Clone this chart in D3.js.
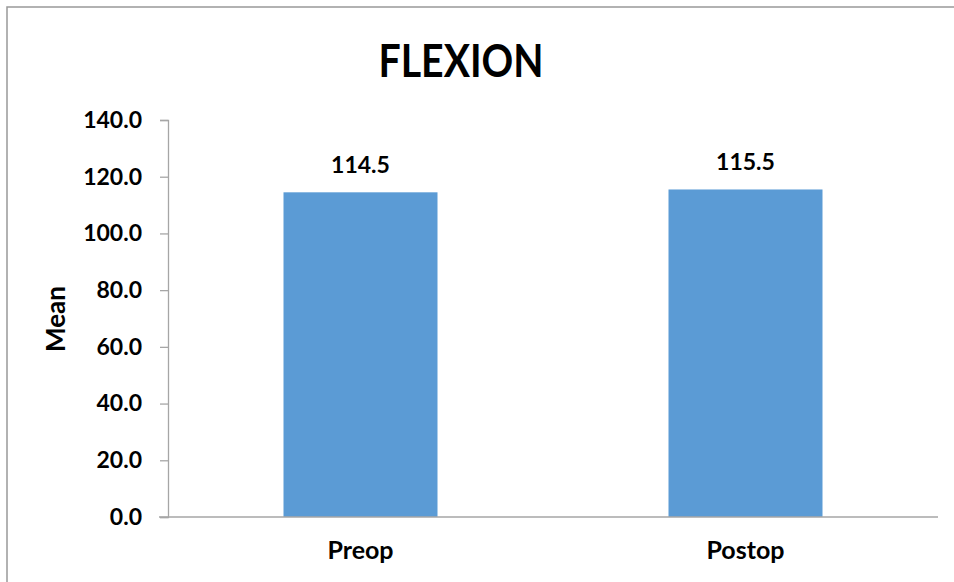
<!DOCTYPE html>
<html>
<head>
<meta charset="utf-8">
<script src="https://cdn.jsdelivr.net/npm/d3@7/dist/d3.min.js"></script>
<style>
  html, body { margin: 0; padding: 0; background: #fff; }
  svg { display: block; }
  text { font-family: Lato, "Open Sans", sans-serif; font-weight: bold; fill: #000; }
</style>
</head>
<body>
<svg id="chart" width="954" height="582"></svg>
<script>
// Mean flexion before and after surgery
const categories = ["Preop", "Postop"];
const meanValues = [114.5, 115.5];
const yTicks = [0, 20, 40, 60, 80, 100, 120, 140];
const chartTitle = "FLEXION";
const yAxisTitle = "Mean";

const W = 954, H = 582;
const plot = { left: 168, right: 938, top: 120, bottom: 517 };

const svg = d3.select("#chart");

// Frame around the chart area (top and left edges visible)
svg.append("path")
  .attr("d", `M7,${H} L7,7 L${W},7`)
  .attr("fill", "none")
  .attr("stroke", "#999")
  .attr("stroke-width", 1.5);

const x = d3.scaleBand()
  .domain(categories)
  .range([plot.left, plot.right])
  .paddingInner(0.6)
  .paddingOuter(0.3);

const y = d3.scaleLinear()
  .domain([0, 140])
  .range([plot.bottom, plot.top]);

// Y axis
const yAxis = d3.axisLeft(y)
  .tickValues(yTicks)
  .tickFormat(d3.format(".1f"))
  .tickSize(8)
  .tickPadding(18);

const gy = svg.append("g")
  .attr("transform", `translate(${plot.left},0)`)
  .call(yAxis);
gy.select(".domain").attr("stroke", "#a6a6a6").attr("stroke-width", 1.3);
gy.selectAll(".tick line").attr("stroke", "#a6a6a6").attr("stroke-width", 1.3);
gy.selectAll(".tick text")
  .style("font-size", "23px")
  .style("font-family", "Lato, sans-serif")
  .style("font-weight", "bold")
  .attr("fill", "#000");

// Bars
svg.append("g")
  .selectAll("rect")
  .data(meanValues)
  .join("rect")
  .attr("x", (d, i) => x(categories[i]))
  .attr("y", d => y(d))
  .attr("width", x.bandwidth())
  .attr("height", d => y(0) - y(d))
  .attr("fill", "#5b9bd5");

// X axis baseline (extends left to the tick length)
svg.append("line")
  .attr("x1", plot.left - 9)
  .attr("x2", plot.right)
  .attr("y1", y(0))
  .attr("y2", y(0))
  .attr("stroke", "#a6a6a6")
  .attr("stroke-width", 1.3);

// Category labels
svg.append("g")
  .selectAll("text")
  .data(categories)
  .join("text")
  .attr("x", d => x(d) + x.bandwidth() / 2)
  .attr("y", 559)
  .attr("text-anchor", "middle")
  .style("font-size", "25px")
  .text(d => d);

// Value labels above bars
svg.append("g")
  .selectAll("text")
  .data(meanValues)
  .join("text")
  .attr("x", (d, i) => x(categories[i]) + x.bandwidth() / 2)
  .attr("y", d => y(d) - 19)
  .attr("text-anchor", "middle")
  .style("font-size", "23px")
  .text(d => d3.format(".1f")(d));

// Y axis title
svg.append("text")
  .attr("transform", `translate(65,319) rotate(-90)`)
  .attr("text-anchor", "middle")
  .style("font-size", "26px")
  .text(yAxisTitle);

// Chart title
svg.append("text")
  .attr("x", 461)
  .attr("y", 77)
  .attr("text-anchor", "middle")
  .attr("textLength", 165)
  .attr("lengthAdjust", "spacingAndGlyphs")
  .style("font-size", "45px")
  .text(chartTitle);
</script>
</body>
</html>
